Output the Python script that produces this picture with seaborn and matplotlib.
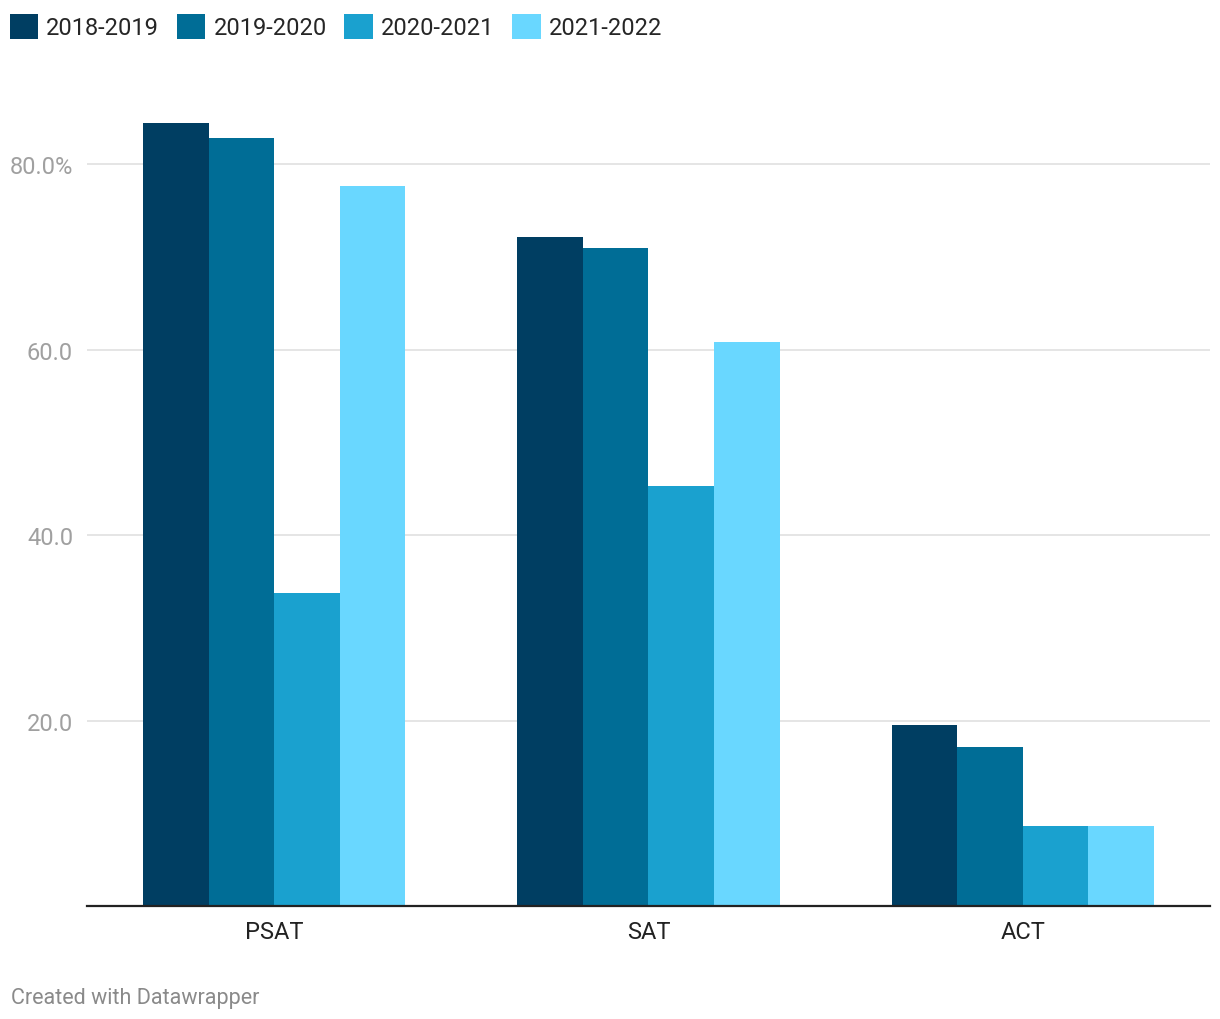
import pandas as pd
import seaborn as sns
import matplotlib.pyplot as plt
from matplotlib.patches import Patch

tests = ['PSAT', 'SAT', 'ACT']
years = ['2018-2019', '2019-2020', '2020-2021', '2021-2022']
v_1819 = [84.4, 72.1, 19.5]
v_1920 = [82.8, 71.0, 17.1]
v_2021 = [33.7, 45.3, 8.6]
v_2122 = [77.6, 60.8, 8.6]
colors = ['#003e62', '#006d96', '#1aa1cf', '#69d7ff']

rows = []
for yr, vals in zip(years, [v_1819, v_1920, v_2021, v_2122]):
    for t, v in zip(tests, vals):
        rows.append({'test': t, 'year': yr, 'value': v})
df = pd.DataFrame(rows)

sns.set_style('white')
plt.rcParams['font.family'] = ['Roboto', 'DejaVu Sans']

fig = plt.figure(figsize=(12.2, 10.2), dpi=100)
ax = fig.add_axes([0.0713, 0.1108, 0.9205, 0.8182])

sns.barplot(data=df, x='test', y='value', hue='year', order=tests, hue_order=years,
            palette=colors, width=0.7, saturation=1, errorbar=None, legend=False,
            linewidth=0, ax=ax)

ax.set_xlim(-0.5, 2.5)
ax.set_ylim(0, 90)
ax.set_yticks([20, 40, 60, 80])
ax.set_yticklabels(['20.0', '40.0', '60.0', '80.0%'])
ax.yaxis.grid(True, color='#e3e3e3', linewidth=1.3)
ax.set_axisbelow(True)
ax.tick_params(axis='y', length=0, pad=10, labelsize=17, labelcolor='#a0a0a0')
ax.tick_params(axis='x', length=0, pad=10, labelsize=17, labelcolor='#222222')
ax.set_xlabel('')
ax.set_ylabel('')
for s in ['top', 'right', 'left']:
    ax.spines[s].set_visible(False)
ax.spines['bottom'].set_color('#222222')
ax.spines['bottom'].set_linewidth(1.6)

handles = [Patch(facecolor=c, edgecolor='none') for c in colors]
fig.legend(handles, years, loc='upper left', bbox_to_anchor=(0.008, 0.985), ncol=4,
           frameon=False, fontsize=17, handlelength=1.2, handleheight=1.2,
           handletextpad=0.35, columnspacing=0.75, borderpad=0, borderaxespad=0)

fig.text(0.009, 0.016, 'Created with Datawrapper', fontsize=15.5, color='#8a8a8a')

fig.savefig('out.png', dpi=100)
